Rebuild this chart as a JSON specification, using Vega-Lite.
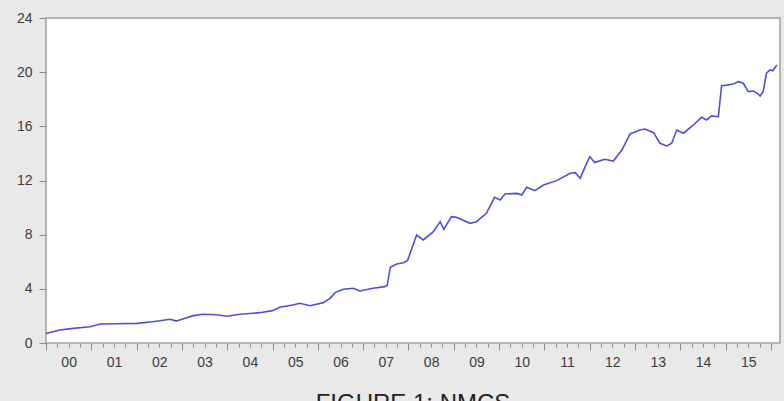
{
  "$schema": "https://vega.github.io/schema/vega-lite/v6.json",
  "autosize": {"type": "none"},
  "width": 734,
  "height": 325,
  "padding": {"left": 46, "top": 18, "right": 4, "bottom": 58},
  "background": "#e9e9e9",
  "title": {
    "text": "FIGURE 1: NMCS",
    "orient": "bottom",
    "anchor": "middle",
    "font": "Liberation Sans",
    "fontSize": 24,
    "fontWeight": "normal",
    "color": "#222222",
    "offset": 20
  },
  "config": {
    "view": {"fill": "#ffffff", "stroke": "#a0a0a0", "strokeWidth": 1.5},
    "axis": {
      "domain": false,
      "grid": false,
      "labelFont": "Liberation Sans",
      "labelColor": "#3c3c3c",
      "tickColor": "#8a8a8a",
      "title": null
    }
  },
  "data": {
    "values": [
      {"t": 2000.00, "v": 0.70}, {"t": 2000.30, "v": 0.96}, {"t": 2000.60, "v": 1.08},
      {"t": 2000.97, "v": 1.20}, {"t": 2001.20, "v": 1.40}, {"t": 2001.50, "v": 1.42},
      {"t": 2002.00, "v": 1.45}, {"t": 2002.36, "v": 1.57}, {"t": 2002.74, "v": 1.75},
      {"t": 2002.88, "v": 1.62}, {"t": 2003.00, "v": 1.75}, {"t": 2003.25, "v": 2.02},
      {"t": 2003.47, "v": 2.12}, {"t": 2003.77, "v": 2.09}, {"t": 2003.99, "v": 1.98},
      {"t": 2004.28, "v": 2.12}, {"t": 2004.72, "v": 2.24}, {"t": 2005.00, "v": 2.39},
      {"t": 2005.16, "v": 2.64}, {"t": 2005.45, "v": 2.81}, {"t": 2005.60, "v": 2.93},
      {"t": 2005.83, "v": 2.75}, {"t": 2006.12, "v": 2.98}, {"t": 2006.27, "v": 3.30},
      {"t": 2006.38, "v": 3.72}, {"t": 2006.56, "v": 3.97}, {"t": 2006.78, "v": 4.04},
      {"t": 2006.93, "v": 3.84}, {"t": 2007.22, "v": 4.04}, {"t": 2007.48, "v": 4.16},
      {"t": 2007.53, "v": 4.25}, {"t": 2007.60, "v": 5.60}, {"t": 2007.74, "v": 5.83},
      {"t": 2007.89, "v": 5.93}, {"t": 2007.98, "v": 6.10}, {"t": 2008.18, "v": 7.97},
      {"t": 2008.33, "v": 7.61}, {"t": 2008.55, "v": 8.22}, {"t": 2008.70, "v": 8.96},
      {"t": 2008.78, "v": 8.40}, {"t": 2008.95, "v": 9.33}, {"t": 2009.06, "v": 9.28},
      {"t": 2009.36, "v": 8.84}, {"t": 2009.50, "v": 8.96}, {"t": 2009.72, "v": 9.58},
      {"t": 2009.90, "v": 10.76}, {"t": 2010.02, "v": 10.56}, {"t": 2010.13, "v": 11.00},
      {"t": 2010.39, "v": 11.05}, {"t": 2010.50, "v": 10.93}, {"t": 2010.61, "v": 11.50},
      {"t": 2010.79, "v": 11.25}, {"t": 2010.98, "v": 11.67}, {"t": 2011.27, "v": 11.99},
      {"t": 2011.57, "v": 12.53}, {"t": 2011.68, "v": 12.58}, {"t": 2011.79, "v": 12.16},
      {"t": 2011.90, "v": 13.02}, {"t": 2012.00, "v": 13.76}, {"t": 2012.11, "v": 13.32},
      {"t": 2012.33, "v": 13.57}, {"t": 2012.52, "v": 13.44}, {"t": 2012.71, "v": 14.25},
      {"t": 2012.89, "v": 15.44}, {"t": 2013.11, "v": 15.73}, {"t": 2013.22, "v": 15.80},
      {"t": 2013.41, "v": 15.53}, {"t": 2013.55, "v": 14.75}, {"t": 2013.70, "v": 14.55},
      {"t": 2013.81, "v": 14.75}, {"t": 2013.92, "v": 15.73}, {"t": 2014.07, "v": 15.49},
      {"t": 2014.29, "v": 16.10}, {"t": 2014.47, "v": 16.67}, {"t": 2014.58, "v": 16.47},
      {"t": 2014.69, "v": 16.77}, {"t": 2014.84, "v": 16.71}, {"t": 2014.91, "v": 18.98},
      {"t": 2015.17, "v": 19.13}, {"t": 2015.28, "v": 19.30}, {"t": 2015.39, "v": 19.18},
      {"t": 2015.50, "v": 18.56}, {"t": 2015.61, "v": 18.61}, {"t": 2015.70, "v": 18.44},
      {"t": 2015.76, "v": 18.24}, {"t": 2015.83, "v": 18.56}, {"t": 2015.90, "v": 19.92},
      {"t": 2015.98, "v": 20.16}, {"t": 2016.04, "v": 20.10}, {"t": 2016.13, "v": 20.53}
    ]
  },
  "mark": {"type": "line", "color": "#4f4fdc", "strokeWidth": 1.6, "interpolate": "linear"},
  "encoding": {
    "x": {
      "field": "t",
      "type": "quantitative",
      "scale": {"domain": [2000, 2016.2], "nice": false, "zero": false},
      "axis": {
        "values": [2000, 2000.25, 2000.5, 2000.75, 2001, 2001.25, 2001.5, 2001.75,
                   2002, 2002.25, 2002.5, 2002.75, 2003, 2003.25, 2003.5, 2003.75,
                   2004, 2004.25, 2004.5, 2004.75, 2005, 2005.25, 2005.5, 2005.75,
                   2006, 2006.25, 2006.5, 2006.75, 2007, 2007.25, 2007.5, 2007.75,
                   2008, 2008.25, 2008.5, 2008.75, 2009, 2009.25, 2009.5, 2009.75,
                   2010, 2010.25, 2010.5, 2010.75, 2011, 2011.25, 2011.5, 2011.75,
                   2012, 2012.25, 2012.5, 2012.75, 2013, 2013.25, 2013.5, 2013.75,
                   2014, 2014.25, 2014.5, 2014.75, 2015, 2015.25, 2015.5, 2015.75, 2016],
        "labelExpr": "datum.value % 1 == 0.5 ? slice('0' + (floor(datum.value) % 100), -2) : ''",
        "labelOverlap": false,
        "labelFlush": false,
        "labelBound": false,
        "labelFontSize": 14,
        "labelPadding": 8,
        "tickSize": {"condition": {"test": "datum.value % 1 == 0", "value": 7}, "value": 4}
      }
    },
    "y": {
      "field": "v",
      "type": "quantitative",
      "scale": {"domain": [0, 24], "nice": false},
      "axis": {
        "values": [0, 4, 8, 12, 16, 20, 24],
        "labelFontSize": 14,
        "labelPadding": 7,
        "tickSize": 7
      }
    }
  }
}
